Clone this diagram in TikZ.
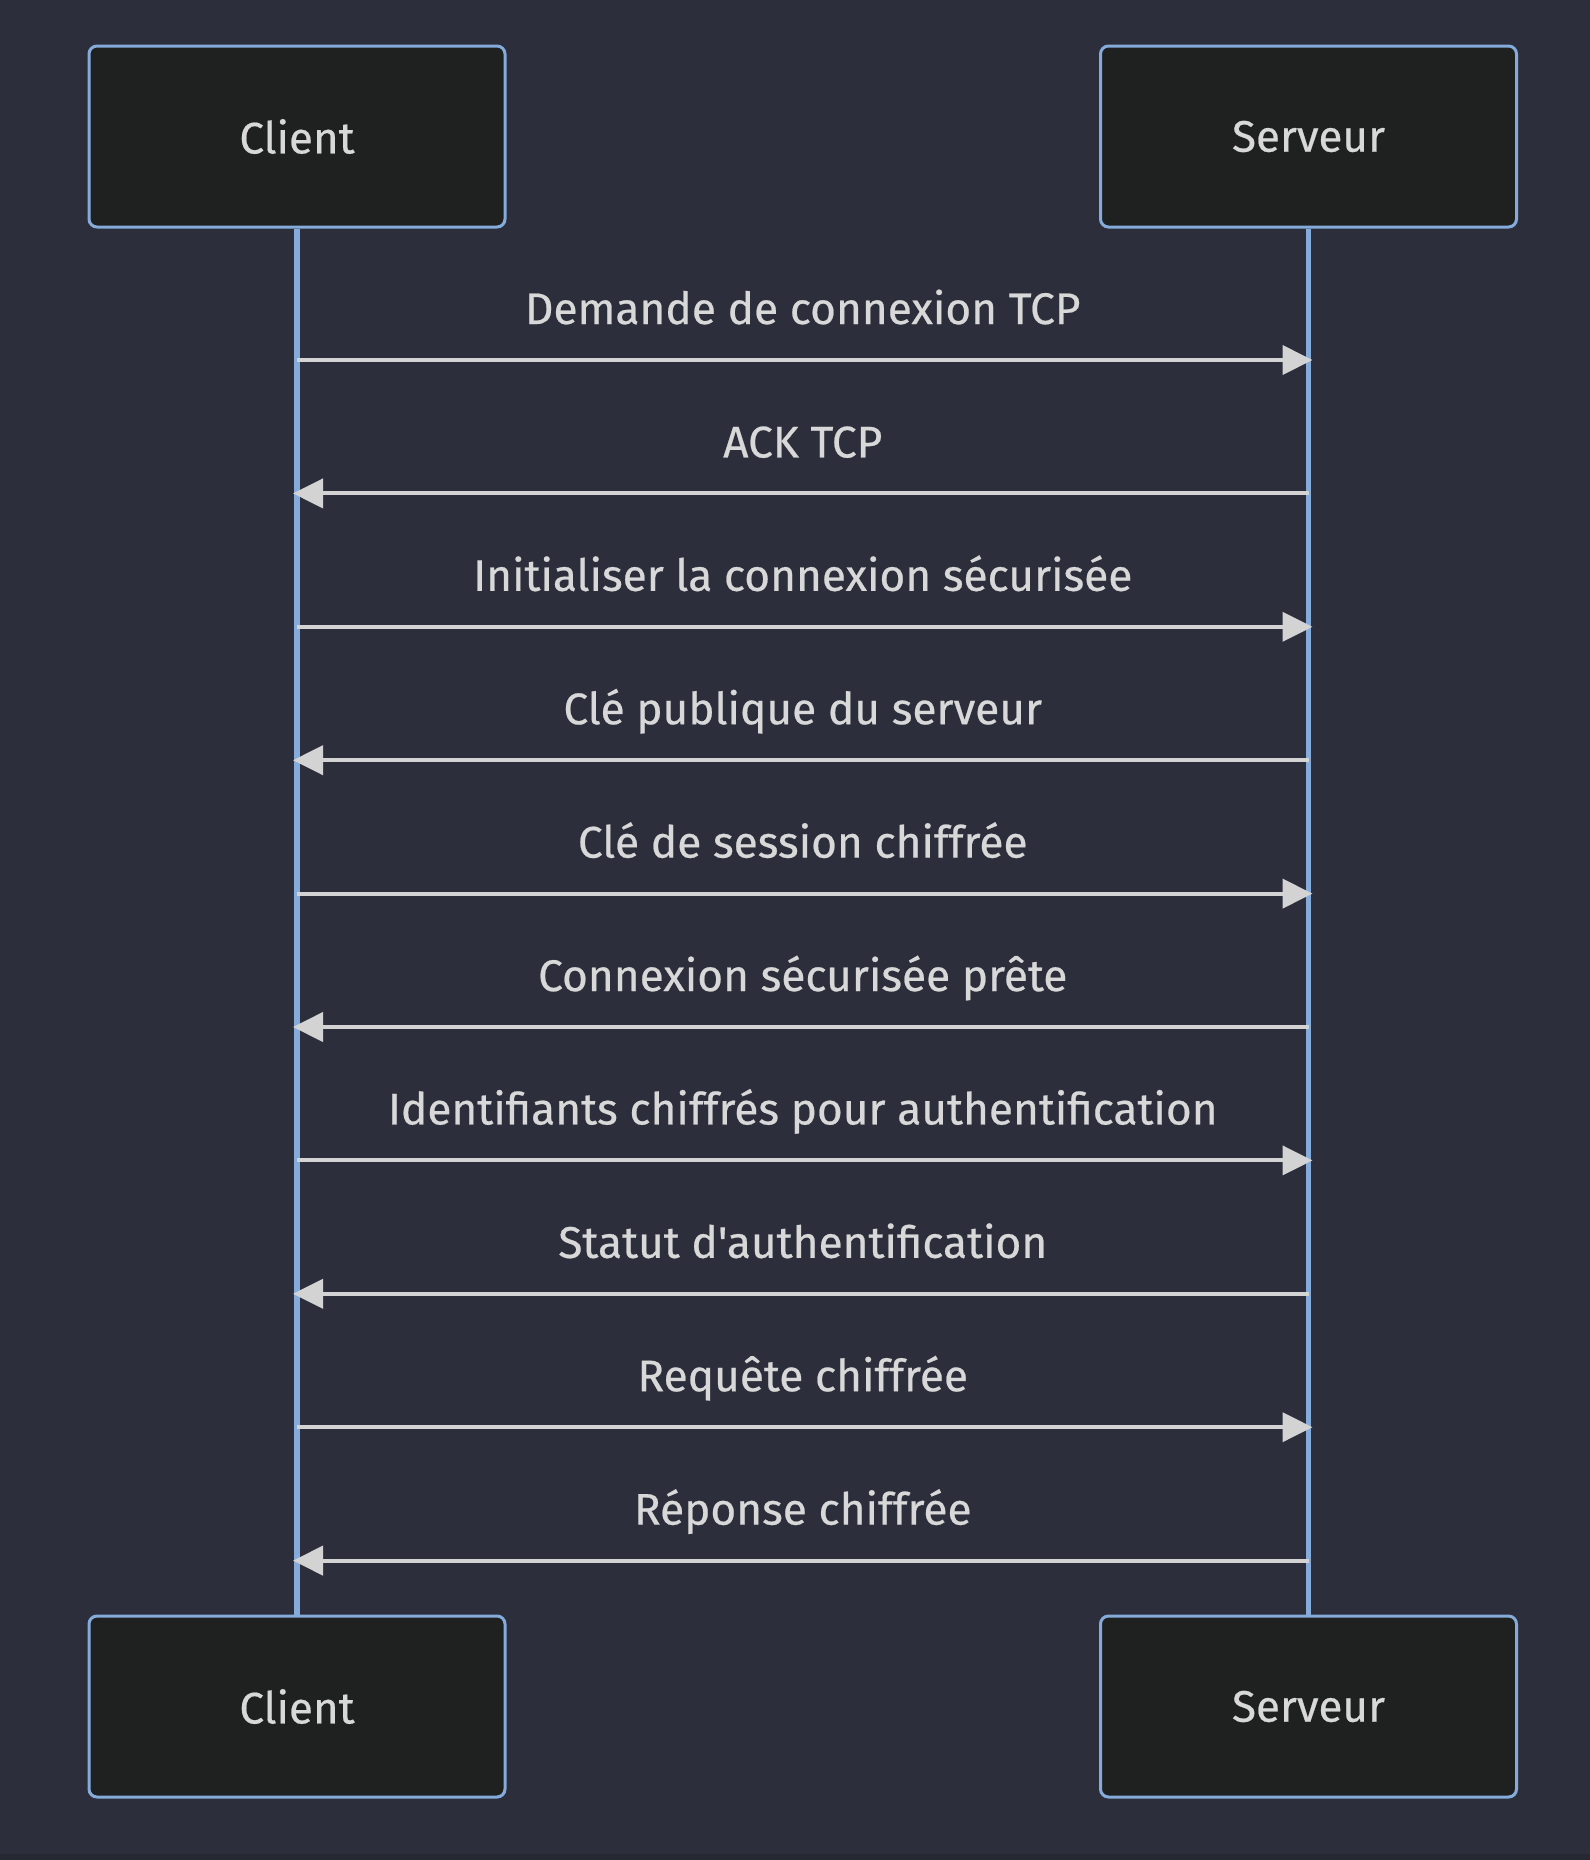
\documentclass[tikz,border=0pt]{standalone}
\usepackage{fontspec}
\setmainfont{Fira Sans}[FakeBold=0.5, Ligatures=TeXOff]
\usepackage{xcolor}
\usetikzlibrary{arrows.meta}

\definecolor{bgdark}{HTML}{2C2F3B}
\definecolor{bgband}{HTML}{262932}
\definecolor{boxfill}{HTML}{1F2020}
\definecolor{boxline}{HTML}{84ABD9}
\definecolor{msgline}{HTML}{D3D3D3}
\definecolor{txt}{HTML}{D8D8D8}

\begin{document}
\begin{tikzpicture}[
  x=0.5pt, y=-0.5pt,
  actor/.style={draw=boxline, fill=boxfill, line width=1.5pt, rounded corners=4pt, minimum width=208pt, minimum height=90.5pt, font=\fontsize{22}{26}\selectfont, text=txt},
  life/.style={draw=boxline, line width=2.8pt},
  msg/.style={draw=msgline, line width=2pt, shorten >=-2pt, -{Triangle[length=15pt, width=14.5pt]}},
  lbl/.style={font=\fontsize{22.1}{26}\selectfont, text=txt, anchor=base, yshift=18pt, inner sep=0pt}
]
\useasboundingbox (0,0) rectangle (1590,1860);
\fill[bgband] (0,0) rectangle (1590,1860);
\fill[bgdark] (0,0) rectangle (1590,1854);

\node[actor] (cli) at (297,136.5) {Client};
\node[actor] (srv) at (1308.5,136.5) {Serveur};
\node[actor] (cliB) at (297,1706.5) {Client};
\node[actor] (srvB) at (1308.5,1706.5) {Serveur};

\draw[life] (cli) -- (cliB);
\draw[life] (srv) -- (srvB);

% message anchors on the lifelines
\foreach \i in {1,...,10} {
  \coordinate (c\i) at (297,{360+133.4*(\i-1)});
  \coordinate (s\i) at (1308.5,{360+133.4*(\i-1)});
}

\draw[msg] (c1) -- (s1) node[lbl, midway] {Demande de connexion TCP};
\draw[msg] (s2) -- (c2) node[lbl, midway] {ACK TCP};
\draw[msg] (c3) -- (s3) node[lbl, midway] {Initialiser la connexion sécurisée};
\draw[msg] (s4) -- (c4) node[lbl, midway] {Clé publique du serveur};
\draw[msg] (c5) -- (s5) node[lbl, midway] {Clé de session chiffrée};
\draw[msg] (s6) -- (c6) node[lbl, midway] {Connexion sécurisée prête};
\draw[msg] (c7) -- (s7) node[lbl, midway] {Identifiants chiffrés pour authentification};
\draw[msg] (s8) -- (c8) node[lbl, midway] {Statut d'authentification};
\draw[msg] (c9) -- (s9) node[lbl, midway] {Requête chiffrée};
\draw[msg] (s10) -- (c10) node[lbl, midway] {Réponse chiffrée};
\end{tikzpicture}
\end{document}
